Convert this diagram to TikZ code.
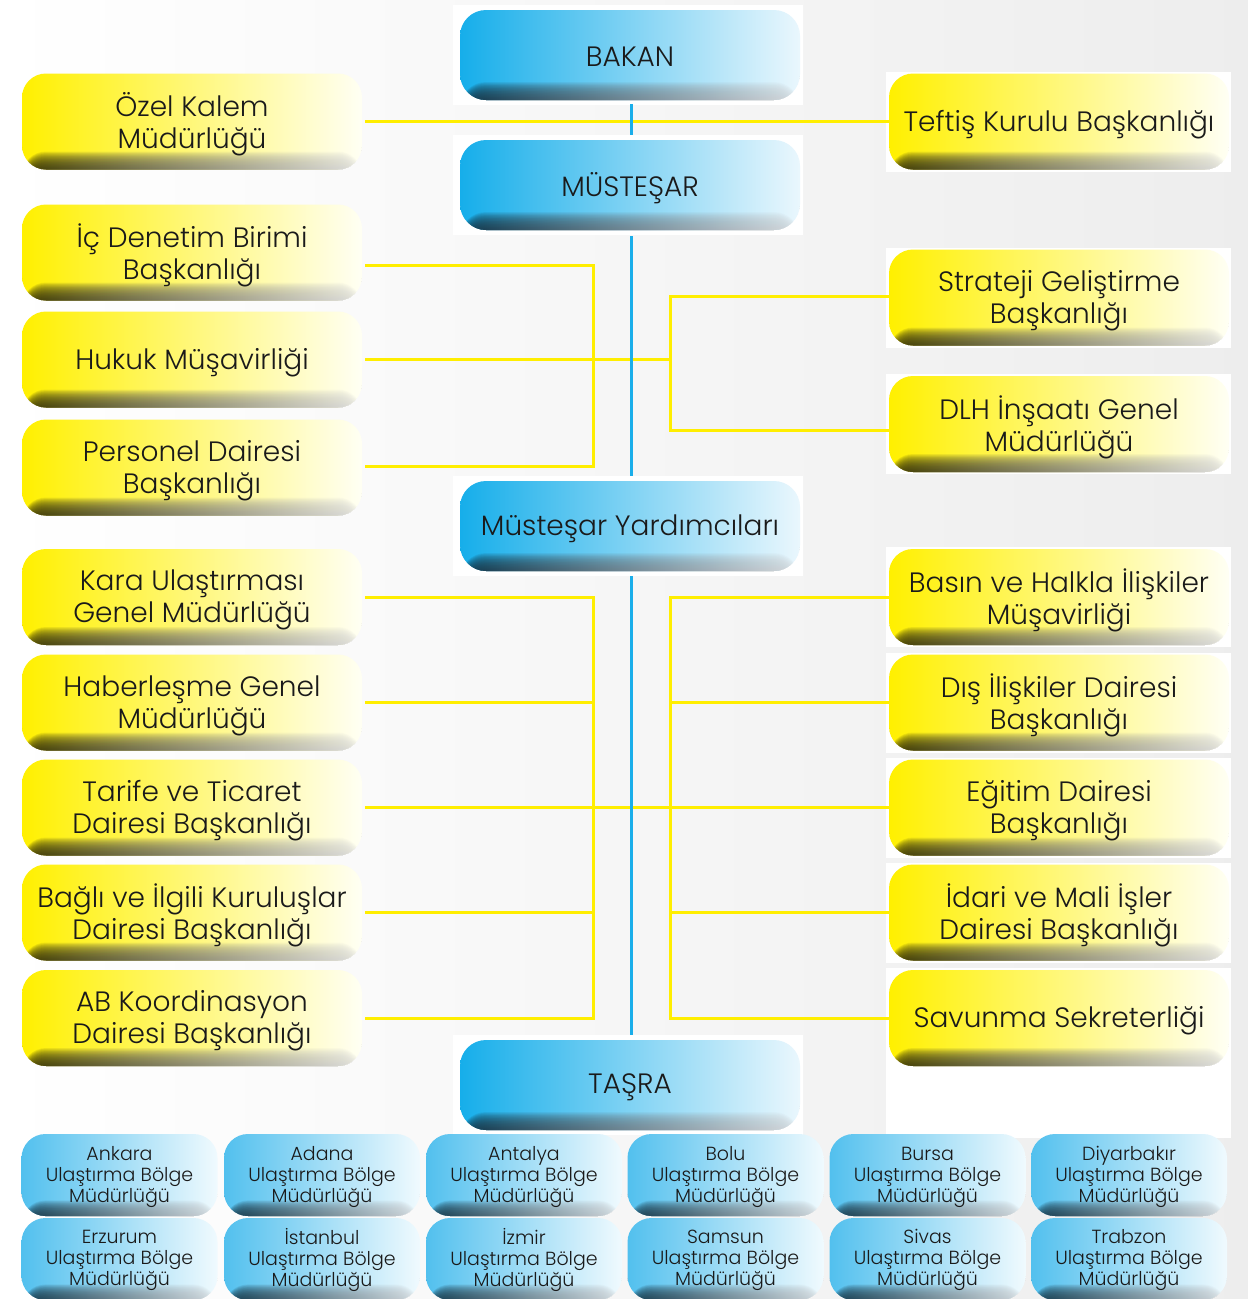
\documentclass[tikz,border=0pt]{standalone}
\usepackage{fontspec}
\IfFontExistsTF{Poppins Light}{\setmainfont{Poppins Light}}{\setmainfont{Poppins}}

\definecolor{yel}{HTML}{FFF000}
\definecolor{yelmid}{HTML}{FFF46A}
\definecolor{yelR}{HTML}{FFFFF4}
\definecolor{ydkL}{HTML}{2E2B0A}
\definecolor{ydkR}{HTML}{E2E2DE}
\definecolor{bluL}{HTML}{16AEEA}
\definecolor{bluM}{HTML}{7ACFF3}
\definecolor{bluR}{HTML}{EAF7FD}
\definecolor{bdkL}{HTML}{0F2E3E}
\definecolor{bdkR}{HTML}{D6DCE0}
\definecolor{sbluL}{HTML}{52C0EE}
\definecolor{sbluM}{HTML}{A0DCF5}
\definecolor{sbluR}{HTML}{F0FAFE}
\definecolor{lineY}{HTML}{FFEE00}
\definecolor{lineB}{HTML}{1AAEEA}
\definecolor{txt}{HTML}{1A1A1A}

% dark band at the bottom of a box: stacked translucent layers
\newcommand\darkband[3]{%
  \foreach \i in {1,...,24} {%
    \shade[left color=#1, right color=#2, opacity=0.085]
      ([yshift=-2pt]path picture bounding box.south west) rectangle
      ([yshift=\i*#3]path picture bounding box.south east);}}

% box with its text placed slightly below the geometric centre
\newcommand\orgbox[5]{%
  \node[#1] (#2) at (#3) {};
  \node[#1 text] at ([yshift=-#4]#2.center) {#5};}

\tikzset{
  ybox/.style={rectangle, rounded corners=24pt, inner sep=0pt,
    minimum width=340pt, minimum height=96pt,
    shade, left color=yel, middle color=yelmid, right color=yelR,
    path picture={\darkband{ydkL}{ydkR}{0.75pt}}},
  bbox/.style={rectangle, rounded corners=26pt, inner sep=0pt,
    minimum width=340pt, minimum height=90pt,
    shade, left color=bluL, middle color=bluM, right color=bluR,
    path picture={\darkband{bdkL}{bdkR}{0.75pt}}},
  sbox/.style={rectangle, rounded corners=24pt, inner sep=0pt,
    minimum width=196pt, minimum height=82pt,
    shade, left color=sbluL, middle color=sbluM, right color=sbluR,
    path picture={\darkband{bdkL}{bdkR}{0.65pt}}},
  ybox text/.style={inner sep=0pt, align=center, text=txt, font=\fontsize{28}{32}\selectfont},
  bbox text/.style={inner sep=0pt, align=center, text=txt, font=\fontsize{28}{32}\selectfont},
  sbox text/.style={inner sep=0pt, align=center, text=txt, font=\fontsize{19}{21}\selectfont},
  yline/.style={draw=lineY, line width=3pt},
  bline/.style={draw=lineB, line width=3pt},
  backdrop/.style={fill=white},
}

\begin{document}
\begin{tikzpicture}[x=1pt,y=-1pt]
\useasboundingbox (0,0) rectangle (1248,1299);
\shade[left color=white, right color=black!7] (0,0) rectangle (1248,1299);

% white backdrops
\foreach \c in {55,185,526,1085} \fill[backdrop] (453,\c-50) rectangle (803,\c+50);
\foreach \c in {121.5,297.5,424,597,702.5,807.5,912.5,1018} \fill[backdrop] (886,\c-50) rectangle (1231,\c+50);
\fill[backdrop] (886,1066) rectangle (1231,1138);

% central boxes
\orgbox{bbox}{bakan}{630,55}{2pt}{BAKAN}
\orgbox{bbox}{must}{630,185}{3pt}{MÜSTEŞAR}
\orgbox{bbox}{myard}{630,526}{3pt}{Müsteşar Yardımcıları}
\orgbox{bbox}{tasra}{630,1085}{2pt}{TAŞRA}

% left boxes
\orgbox{ybox}{ozel}{192,121.5}{3pt}{Özel Kalem\\Müdürlüğü}
\orgbox{ybox}{icd}{192,252.5}{3pt}{İç Denetim Birimi\\Başkanlığı}
\orgbox{ybox}{hukuk}{192,359.5}{3pt}{Hukuk Müşavirliği}
\orgbox{ybox}{pers}{192,467.5}{3pt}{Personel Dairesi\\Başkanlığı}
\orgbox{ybox}{kara}{192,597}{3pt}{Kara Ulaştırması\\Genel Müdürlüğü}
\orgbox{ybox}{haber}{192,702.5}{3pt}{Haberleşme Genel\\Müdürlüğü}
\orgbox{ybox}{tarife}{192,807.5}{3pt}{Tarife ve Ticaret\\Dairesi Başkanlığı}
\orgbox{ybox}{bagli}{192,912.5}{3pt}{Bağlı ve İlgili Kuruluşlar\\Dairesi Başkanlığı}
\orgbox{ybox}{ab}{192,1018}{3pt}{AB Koordinasyon\\Dairesi Başkanlığı}

% right boxes
\orgbox{ybox}{teftis}{1059,121.5}{3pt}{Teftiş Kurulu Başkanlığı}
\orgbox{ybox}{strat}{1059,297.5}{3pt}{Strateji Geliştirme\\Başkanlığı}
\orgbox{ybox}{dlh}{1059,424}{3pt}{DLH İnşaatı Genel\\Müdürlüğü}
\orgbox{ybox}{basin}{1059,597}{3pt}{Basın ve Halkla İlişkiler\\Müşavirliği}
\orgbox{ybox}{dis}{1059,702.5}{3pt}{Dış İlişkiler Dairesi\\Başkanlığı}
\orgbox{ybox}{egitim}{1059,807.5}{3pt}{Eğitim Dairesi\\Başkanlığı}
\orgbox{ybox}{idari}{1059,912.5}{3pt}{İdari ve Mali İşler\\Dairesi Başkanlığı}
\orgbox{ybox}{savunma}{1059,1018}{3pt}{Savunma Sekreterliği}

% regional boxes
\orgbox{sbox}{r1}{119.5,1175}{2pt}{Ankara\\Ulaştırma Bölge\\Müdürlüğü}
\orgbox{sbox}{r2}{322,1175}{2pt}{Adana\\Ulaştırma Bölge\\Müdürlüğü}
\orgbox{sbox}{r3}{524,1175}{2pt}{Antalya\\Ulaştırma Bölge\\Müdürlüğü}
\orgbox{sbox}{r4}{725.5,1175}{2pt}{Bolu\\Ulaştırma Bölge\\Müdürlüğü}
\orgbox{sbox}{r5}{927.5,1175}{2pt}{Bursa\\Ulaştırma Bölge\\Müdürlüğü}
\orgbox{sbox}{r6}{1129,1175}{2pt}{Diyarbakır\\Ulaştırma Bölge\\Müdürlüğü}
\orgbox{sbox}{r7}{119.5,1259}{1pt}{Erzurum\\Ulaştırma Bölge\\Müdürlüğü}
\orgbox{sbox}{r8}{322,1259}{1pt}{İstanbul\\Ulaştırma Bölge\\Müdürlüğü}
\orgbox{sbox}{r9}{524,1259}{1pt}{İzmir\\Ulaştırma Bölge\\Müdürlüğü}
\orgbox{sbox}{r10}{725.5,1259}{1pt}{Samsun\\Ulaştırma Bölge\\Müdürlüğü}
\orgbox{sbox}{r11}{927.5,1259}{1pt}{Sivas\\Ulaştırma Bölge\\Müdürlüğü}
\orgbox{sbox}{r12}{1129,1259}{1pt}{Trabzon\\Ulaştırma Bölge\\Müdürlüğü}

% junction coordinates
\coordinate (jA) at (593,265);
\coordinate (jB) at (593,466);
\coordinate (jC) at (670,296);
\coordinate (jD) at (670,430);
\coordinate (jE) at (593,597);
\coordinate (jF) at (593,1018);
\coordinate (jG) at (670,597);
\coordinate (jH) at (670,1018);

% yellow connectors
\draw[yline] ([xshift=3pt]ozel.east) -- (teftis.west);
\draw[yline] ([xshift=3pt]icd.east |- jA) -- (jA) -- (jB) -- ([xshift=3pt]pers.east |- jB);
\draw[yline] (strat.west |- jC) -- (jC) -- (jD) -- (dlh.west |- jD);
\draw[yline] ([xshift=3pt]hukuk.east) -- (hukuk.east -| jC);
\draw[yline] ([xshift=3pt]kara.east) -- (jE) -- (jF) -- ([xshift=3pt]ab.east);
\draw[yline] ([xshift=3pt]haber.east) -- (haber.east -| jE);
\draw[yline] ([xshift=3pt]bagli.east) -- (bagli.east -| jE);
\draw[yline] ([xshift=3pt]tarife.east) -- (egitim.west);
\draw[yline] (basin.west) -- (jG) -- (jH) -- (savunma.west);
\draw[yline] (dis.west) -- (dis.west -| jG);
\draw[yline] (idari.west) -- (idari.west -| jG);

% blue connectors
\draw[bline, shorten <=4pt, shorten >=5pt] ([xshift=1pt]bakan.south) -- ([xshift=1pt]must.north);
\draw[bline, shorten <=6pt, shorten >=5pt] ([xshift=1pt]must.south) -- ([xshift=1pt]myard.north);
\draw[bline, shorten <=5pt, shorten >=5pt] ([xshift=1pt]myard.south) -- ([xshift=1pt]tasra.north);
\end{tikzpicture}
\end{document}
